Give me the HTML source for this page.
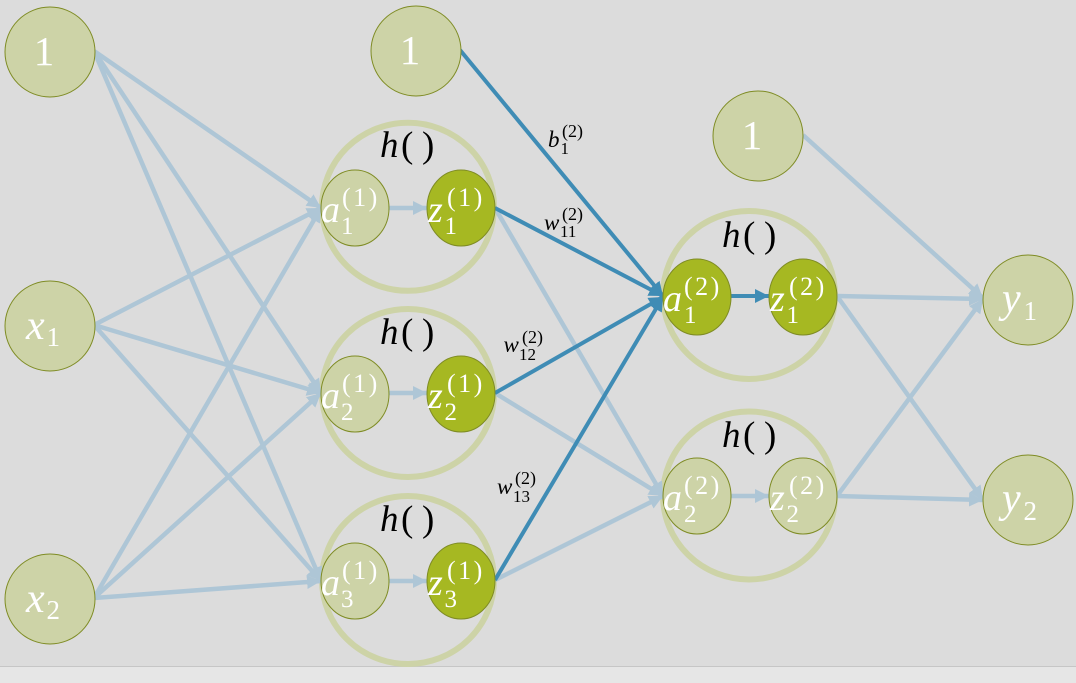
<!DOCTYPE html>
<html>
<head>
<meta charset="utf-8">
<title>Neural network diagram</title>
<style>
html,body{margin:0;padding:0;background:#dcdcdc;width:1076px;height:683px;overflow:hidden}
svg{display:block}
text{font-family:"Liberation Serif",serif}
.it{font-style:italic}
.w{fill:#fff}
.k{fill:#000}
.e{fill:none;stroke:#aec6d6;stroke-width:4.5;marker-end:url(#hl)}
.d{fill:none;stroke:#3f8cb5;stroke-width:4;marker-end:url(#hd)}
.c{fill:none;stroke:#cdd3a7;stroke-width:6}
.n{fill:#cdd3a7;stroke:#7f8c25;stroke-width:1}
.a{fill:#a6b822;stroke:#7f8c25;stroke-width:1}
.v{font-size:38px}
.s{font-size:26px;letter-spacing:2.5px}
.si{font-size:25px}
.big{font-size:41px}
.var{font-size:42px}
.sub{font-size:27px}
.h{font-size:37px}
.lb{font-size:23px}
.ls{font-size:17px}
.lp{font-size:18px}
</style>
</head>
<body>
<svg width="1076" height="683" viewBox="0 0 1076 683" xmlns="http://www.w3.org/2000/svg">
<defs>
<marker id="hl" markerUnits="userSpaceOnUse" markerWidth="16" markerHeight="16" refX="14" refY="8" orient="auto"><path d="M0 1 L14 8 L0 15 Z" fill="#aec6d6"/></marker>
<marker id="hd" markerUnits="userSpaceOnUse" markerWidth="16" markerHeight="16" refX="14" refY="8" orient="auto"><path d="M0 1 L14 8 L0 15 Z" fill="#3f8cb5"/></marker>
</defs>
<rect x="0" y="0" width="1076" height="666" fill="#dcdcdc"/>
<rect x="0" y="666" width="1076" height="17" fill="#e6e6e6"/>
<line x1="0" y1="666.5" x2="1076" y2="666.5" stroke="#c6c6c6"/>

<g>
<ellipse class="c" cx="408" cy="206.8" rx="86" ry="84"/>
<ellipse class="c" cx="408" cy="393" rx="86" ry="84"/>
<ellipse class="c" cx="408" cy="580" rx="86" ry="84"/>
<ellipse class="c" cx="749" cy="295" rx="86" ry="84"/>
<ellipse class="c" cx="749" cy="495.5" rx="86" ry="84"/>
</g>

<g>
<line class="e" x1="94" y1="51" x2="321" y2="208"/>
<line class="e" x1="94" y1="51" x2="321" y2="393"/>
<line class="e" x1="94" y1="51" x2="321" y2="581"/>
<line class="e" x1="94" y1="325" x2="321" y2="208"/>
<line class="e" x1="94" y1="325" x2="321" y2="393"/>
<line class="e" x1="94" y1="325" x2="321" y2="581"/>
<line class="e" x1="94" y1="598" x2="321" y2="208"/>
<line class="e" x1="94" y1="598" x2="321" y2="393"/>
<line class="e" x1="94" y1="598" x2="321" y2="581"/>
<line class="e" x1="389" y1="208" x2="427" y2="208"/>
<line class="e" x1="389" y1="393" x2="427" y2="393"/>
<line class="e" x1="389" y1="581" x2="427" y2="581"/>
<line class="e" x1="495" y1="208" x2="663" y2="496"/>
<line class="e" x1="495" y1="393" x2="663" y2="496"/>
<line class="e" x1="495" y1="580" x2="663" y2="496"/>
<line class="e" x1="731" y1="496" x2="769" y2="496"/>
<line class="e" x1="837" y1="296" x2="983" y2="299"/>
<line class="e" x1="837" y1="296" x2="983" y2="500"/>
<line class="e" x1="837" y1="496" x2="983" y2="299"/>
<line class="e" x1="837" y1="496" x2="983" y2="500"/>
<line class="e" x1="803" y1="135" x2="983" y2="298"/>
</g>
<g>
<line class="d" x1="460" y1="50" x2="663" y2="296"/>
<line class="d" x1="495" y1="208" x2="663" y2="296"/>
<line class="d" x1="495" y1="393" x2="663" y2="297"/>
<line class="d" x1="495" y1="580" x2="663" y2="297"/>
<line class="d" x1="731" y1="296" x2="769" y2="296"/>
</g>

<g><circle class="n" cx="50" cy="52" r="45"/><text class="w big" x="44" y="65" text-anchor="middle">1</text></g>
<g><circle class="n" cx="50" cy="326" r="45"/><text class="w it var" x="26" y="339">x</text><text class="w sub" x="46.5" y="346">1</text></g>
<g><circle class="n" cx="50" cy="599" r="45"/><text class="w it var" x="26" y="612">x</text><text class="w sub" x="46.5" y="619">2</text></g>
<g><circle class="n" cx="416" cy="51" r="45"/><text class="w big" x="410" y="64" text-anchor="middle">1</text></g>
<g><circle class="n" cx="758" cy="136" r="45"/><text class="w big" x="752" y="149" text-anchor="middle">1</text></g>
<g><circle class="n" cx="1028" cy="300" r="45"/><text class="w it var" x="1002" y="312">y</text><text class="w sub" x="1023.5" y="320">1</text></g>
<g><circle class="n" cx="1028" cy="500" r="45"/><text class="w it var" x="1002" y="512">y</text><text class="w sub" x="1023.5" y="520">2</text></g>

<g><ellipse class="n" cx="355" cy="208" rx="34" ry="38"/><text class="w it v" x="321" y="222">a</text><text class="w si" x="341" y="234">1</text><text class="w s" x="342" y="206">(1)</text></g>
<g><ellipse class="a" cx="461" cy="208" rx="34" ry="38"/><text class="w it v" x="428" y="222">z</text><text class="w si" x="444.5" y="234">1</text><text class="w s" x="447" y="206">(1)</text></g>
<g><ellipse class="n" cx="355" cy="394" rx="34" ry="38"/><text class="w it v" x="321" y="408">a</text><text class="w si" x="341" y="420">2</text><text class="w s" x="342" y="392">(1)</text></g>
<g><ellipse class="a" cx="461" cy="394" rx="34" ry="38"/><text class="w it v" x="428" y="408">z</text><text class="w si" x="444.5" y="420">2</text><text class="w s" x="447" y="392">(1)</text></g>
<g><ellipse class="n" cx="355" cy="581" rx="34" ry="38"/><text class="w it v" x="321" y="595">a</text><text class="w si" x="341" y="607">3</text><text class="w s" x="342" y="579">(1)</text></g>
<g><ellipse class="a" cx="461" cy="581" rx="34" ry="38"/><text class="w it v" x="428" y="595">z</text><text class="w si" x="444.5" y="607">3</text><text class="w s" x="447" y="579">(1)</text></g>
<g><ellipse class="a" cx="697" cy="297" rx="34" ry="38"/><text class="w it v" x="663" y="311">a</text><text class="w si" x="684" y="323">1</text><text class="w s" x="684" y="295">(2)</text></g>
<g><ellipse class="a" cx="803" cy="297" rx="34" ry="38"/><text class="w it v" x="770" y="311">z</text><text class="w si" x="786.5" y="323">1</text><text class="w s" x="789" y="295">(2)</text></g>
<g><ellipse class="n" cx="697" cy="496" rx="34" ry="38"/><text class="w it v" x="663" y="510">a</text><text class="w si" x="684" y="522">2</text><text class="w s" x="684" y="494">(2)</text></g>
<g><ellipse class="n" cx="803" cy="496" rx="34" ry="38"/><text class="w it v" x="770" y="510">z</text><text class="w si" x="786.5" y="522">2</text><text class="w s" x="789" y="494">(2)</text></g>

<g>
<text class="k h" y="157"><tspan class="it" x="380">h</tspan><tspan x="401">(</tspan><tspan x="422">)</tspan></text>
<text class="k h" y="344"><tspan class="it" x="380">h</tspan><tspan x="401">(</tspan><tspan x="422">)</tspan></text>
<text class="k h" y="531"><tspan class="it" x="380">h</tspan><tspan x="401">(</tspan><tspan x="422">)</tspan></text>
<text class="k h" y="247"><tspan class="it" x="722">h</tspan><tspan x="743">(</tspan><tspan x="764">)</tspan></text>
<text class="k h" y="447"><tspan class="it" x="722">h</tspan><tspan x="743">(</tspan><tspan x="764">)</tspan></text>
</g>

<g>
<g><text class="k it lb" x="548" y="147">b</text><text class="k ls" x="560.5" y="154">1</text><text class="k lp" x="562" y="137">(2)</text></g>
<g><text class="k it lb" x="544" y="230">w</text><text class="k ls" x="560" y="237">11</text><text class="k lp" x="562" y="220">(2)</text></g>
<g><text class="k it lb" x="503.5" y="352">w</text><text class="k ls" x="519" y="360">12</text><text class="k lp" x="522" y="343">(2)</text></g>
<g><text class="k it lb" x="497" y="494">w</text><text class="k ls" x="513" y="502">13</text><text class="k lp" x="515" y="484">(2)</text></g>
</g>
</svg>
</body>
</html>
